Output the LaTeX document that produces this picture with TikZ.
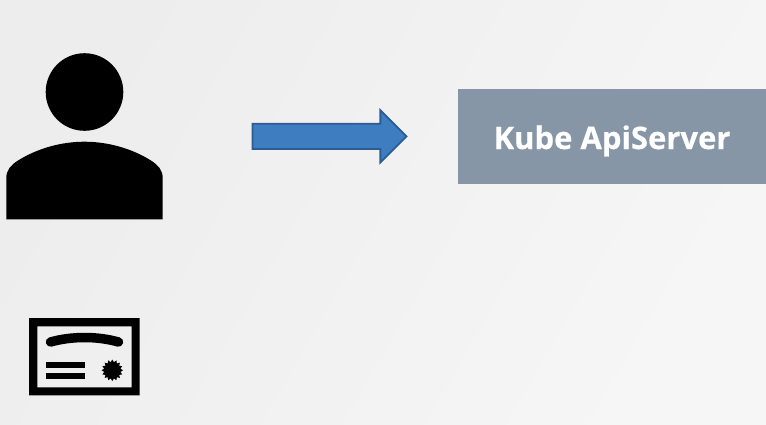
\documentclass[tikz,border=0pt]{standalone}
\usepackage{fontspec}
\setmainfont[BoldFeatures={FakeBold=0.5}]{Open Sans}
\usetikzlibrary{positioning,shapes.arrows,shapes.geometric}
\definecolor{bgtop}{HTML}{EDEDED}
\definecolor{bgbot}{HTML}{F6F6F6}
\definecolor{boxgray}{HTML}{8696A7}
\definecolor{arrowblue}{HTML}{3D7DC0}
\definecolor{arrowedge}{HTML}{2B5C92}
\begin{document}
\begin{tikzpicture}[x=1pt,y=-1pt,
	srvbox/.style={rectangle,fill=boxgray,text=white,font=\bfseries\fontsize{31}{36}\selectfont,inner sep=0pt,text height=30pt,text depth=4.6pt,minimum width=308pt,minimum height=95pt},
	bigarrow/.style={single arrow,draw=arrowedge,fill=arrowblue,line width=1.8pt,inner sep=0pt,text height=23.5pt,text depth=0pt,minimum width=51pt,minimum height=154pt,single arrow head extend=13.5pt,single arrow tip angle=90},
	blackpart/.style={fill=black,draw=none}]
		\path[use as bounding box,left color=bgtop,right color=bgbot,shading angle=60] (0,0) rectangle (766,424);
		\node[srvbox] (apiserver) at (612,136.3) {Kube ApiServer};
		\node[bigarrow] (sendarrow) [left = 50pt of apiserver] {};
		% user
		\node[circle,blackpart,minimum size=77.6pt,inner sep=0pt] (userhead) at (84.5,92) {};
		\fill (6.3,219.3) -- (6.3,178) .. controls (6.3,170) and (11,165) .. (18,160.5)
			.. controls (38,148) and (62,141.7) .. (84.5,141.7)
			.. controls (107,141.7) and (131,148) .. (151,160.5)
			.. controls (158,165) and (162.7,170) .. (162.7,178) -- (162.7,219.3) -- cycle;
		% certificate
		\fill[even odd rule] (29,318) rectangle (139.7,395.3) (37.3,326.3) rectangle (131.7,387.3);
		\draw[line width=9.5pt,line cap=round] (50.5,342) .. controls (72,336) and (97,336) .. (118.5,342);
		\fill (45.7,362.3) rectangle (84.7,367.7);
		\fill (45.7,373.3) rectangle (84.7,378.7);
		\node[star,star points=16,star point ratio=1.3,blackpart,minimum size=21.5pt,inner sep=0pt] (seal) at (112.3,370.3) {};
	\end{tikzpicture}
\end{document}
